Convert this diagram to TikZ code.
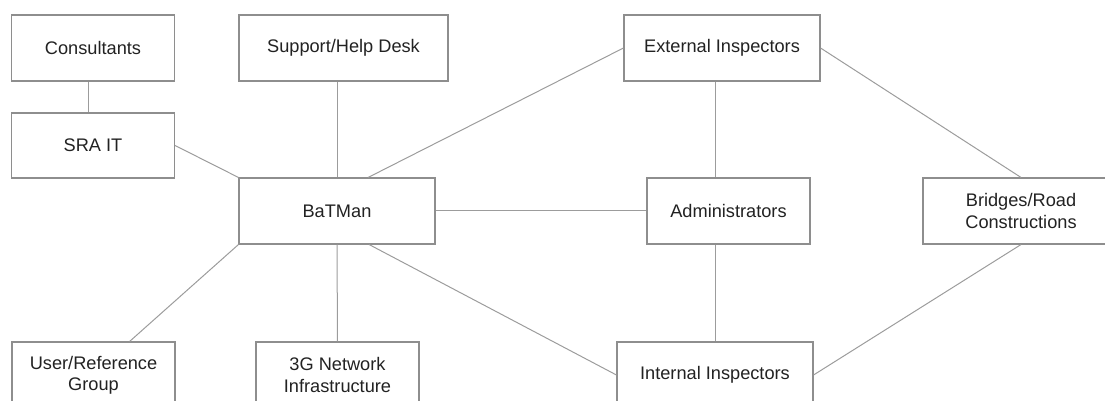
\documentclass[tikz,border=0pt]{standalone}
\usepackage{fontspec}
\setmainfont{Liberation Sans}
\usetikzlibrary{calc}
\definecolor{boxline}{HTML}{8E8E8E}
\definecolor{linkline}{HTML}{9C9C9C}
\definecolor{labeltext}{HTML}{222222}
\tikzset{
  entity/.style={draw=boxline, line width=0.55pt, fill=white, inner sep=0pt,
    minimum height=33pt, align=center, text=labeltext,
    font=\fontsize{9.1}{10.6}\selectfont},
  narrowbox/.style={entity, minimum width=81.5pt},
  widebox/.style={entity, minimum width=98pt},
  widerbox/.style={entity, minimum width=104.5pt},
  link/.style={draw=linkline, line width=0.5pt}
}
\begin{document}
\begin{tikzpicture}[x=0.5pt, y=-0.5pt]
  \useasboundingbox (0,0) rectangle (1105,401);
  \clip (0,0) rectangle (1105,401);

  % links are drawn first so the boxes sit on top of them
  \node[narrowbox] (consult) at (93,48) {Consultants};
  \node[narrowbox, minimum height=32.5pt] (sra) at (93,145.5) {SRA IT};
  \node[widerbox] (support) at (343.5,48) {Support/Help Desk};
  \node[widebox] (batman) at (337,211) {BaTMan};
  \node[narrowbox] (user) at (93.5,375) {User/Reference\\Group};
  \node[narrowbox] (threeg) at (337.5,375) {3G Network\\Infrastructure};
  \node[widebox] (external) at (722,48) {External Inspectors};
  \node[narrowbox] (admin) at (728.5,211) {Administrators};
  \node[widebox] (bridges) at (1021,211) {Bridges/Road\\Constructions};
  \node[widebox] (internal) at (715,375) {Internal Inspectors};

  % connectors
  \draw[link] ($(consult.south west)!0.475!(consult.south east)$)
           -- ($(sra.north west)!0.475!(sra.north east)$);
  \draw[link] (sra.east) -- (batman.north west);
  \draw[link] (support.south -| batman.north) -- (batman.north);
  \draw[link] ($(batman.north west)!0.658!(batman.north east)$) -- (external.west);
  \draw[link] (batman.east) -- (admin.west);
  \draw[link] (batman.south west) -- ($(user.north west)!0.72!(user.north east)$);
  \draw[link] (batman.south) -- (threeg.north);
  \draw[link] ($(batman.south west)!0.663!(batman.south east)$) -- (internal.west);
  \draw[link] (external.south -| internal.north) -- (admin.north -| internal.north);
  \draw[link] (admin.south -| internal.north) -- (internal.north);
  \draw[link] (external.east) -- (bridges.north);
  \draw[link] (bridges.south) -- (internal.east);
\end{tikzpicture}
\end{document}
